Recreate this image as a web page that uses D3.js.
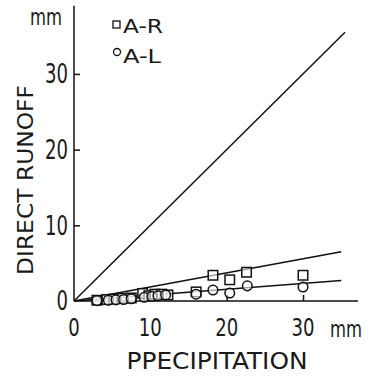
<!DOCTYPE html>
<html>
<head>
<meta charset="utf-8">
<script src="https://cdn.jsdelivr.net/npm/d3@7"></script>
<style>
  html, body { margin: 0; padding: 0; background: #fff; }
  svg { display: block; }
  text { font-family: "DejaVu Sans Condensed", "DejaVu Sans", sans-serif; fill: #1a1a1a; }
</style>
</head>
<body>
<svg id="chart" width="372" height="377"></svg>
<script>
// ---- data ----
const arPrecip = [3.0, 4.3, 5.2, 6.3, 7.5, 9.0, 9.8, 10.6, 11.5, 12.3, 16.0, 18.2, 20.4, 22.6, 30.0];
const arRunoff = [0.1, 0.2, 0.25, 0.35, 0.4, 1.0, 0.7, 0.9, 0.9, 0.8, 1.2, 3.4, 2.8, 3.8, 3.4];
const alPrecip = [3.0, 4.5, 5.5, 6.5, 7.5, 9.2, 10.2, 11.0, 12.0, 16.0, 18.2, 20.4, 22.7, 30.0];
const alRunoff = [0.05, 0.1, 0.15, 0.2, 0.3, 0.5, 0.6, 0.7, 0.8, 0.9, 1.45, 1.05, 2.0, 1.85];
const oneToOneX = [0, 35.5];
const oneToOneY = [0, 35.5];
const arFitX = [0, 35];
const arFitY = [0, 6.5];
const alFitX = [0, 35];
const alFitY = [0, 2.7];
const xTicks = [10, 20, 30];
const yTicks = [10, 20, 30];
const xTickLabels = ["0", "10", "20", "30"];
const yTickLabels = ["0", "10", "20", "30"];
const legendLabels = ["A-R", "A-L"];

// ---- scales ----
const svg = d3.select("#chart");
const x = d3.scaleLinear().domain([0, 37.2]).range([74, 358]);
const y = d3.scaleLinear().domain([0, 39]).range([301, 5.8]);
const ink = "#111";

// axes lines
svg.append("line").attr("x1", x(0)).attr("x2", x(0)).attr("y1", y(0)).attr("y2", y(39))
  .attr("stroke", ink).attr("stroke-width", 1.5);
svg.append("line").attr("x1", x(0)).attr("x2", x(37.2)).attr("y1", y(0)).attr("y2", y(0))
  .attr("stroke", ink).attr("stroke-width", 1.5);

// ticks
const yAx = svg.append("g").attr("transform", `translate(${x(0)},0)`)
  .call(d3.axisLeft(y).tickValues(yTicks).tickSize(-6).tickFormat(""));
const xAx = svg.append("g").attr("transform", `translate(0,${y(0)})`)
  .call(d3.axisBottom(x).tickValues(xTicks).tickSize(-6).tickFormat(""));
[yAx, xAx].forEach(g => {
  g.select(".domain").remove();
  g.selectAll(".tick line").attr("stroke", ink).attr("stroke-width", 1.5);
});

// tick labels
const tickVals = [0, 10, 20, 30];
svg.selectAll(".ylab").data(tickVals).enter().append("text")
  .attr("x", x(0) - 6).attr("y", d => y(d)).attr("dy", "0.36em")
  .attr("text-anchor", "end").attr("font-size", 26)
  .attr("textLength", (d, i) => yTickLabels[i].length * 11.5).attr("lengthAdjust", "spacingAndGlyphs")
  .text((d, i) => yTickLabels[i]);
svg.selectAll(".xlab").data(tickVals).enter().append("text")
  .attr("x", d => x(d)).attr("y", 336)
  .attr("text-anchor", "middle").attr("font-size", 25)
  .attr("textLength", (d, i) => xTickLabels[i].length * 11.5).attr("lengthAdjust", "spacingAndGlyphs")
  .text((d, i) => xTickLabels[i]);

// units
svg.append("text").attr("x", 30).attr("y", 25).attr("font-size", 23)
  .attr("textLength", 32).attr("lengthAdjust", "spacingAndGlyphs").text("mm");
svg.append("text").attr("x", 330).attr("y", 337).attr("font-size", 23)
  .attr("textLength", 32).attr("lengthAdjust", "spacingAndGlyphs").text("mm");

// axis titles
svg.append("text").attr("transform", "translate(33,180) rotate(-90)")
  .attr("text-anchor", "middle").attr("font-size", 22)
  .attr("textLength", 190).attr("lengthAdjust", "spacingAndGlyphs").text("DIRECT RUNOFF");
svg.append("text").attr("x", 217).attr("y", 369)
  .attr("text-anchor", "middle").attr("font-size", 23)
  .attr("textLength", 181).attr("lengthAdjust", "spacingAndGlyphs").text("PPECIPITATION");

// lines
const line = d3.line().x(d => x(d[0])).y(d => y(d[1]));
[[oneToOneX, oneToOneY], [arFitX, arFitY], [alFitX, alFitY]].forEach(([xs, ys]) => {
  svg.append("path").datum(xs.map((v, i) => [v, ys[i]]))
    .attr("d", line).attr("fill", "none").attr("stroke", ink).attr("stroke-width", 1.5);
});

// points
const s = 9.5;
svg.selectAll(".sq").data(arPrecip.map((v, i) => [v, arRunoff[i]])).enter().append("rect")
  .attr("x", d => x(d[0]) - s / 2).attr("y", d => y(d[1]) - s / 2)
  .attr("width", s).attr("height", s)
  .attr("fill", "#fff").attr("fill-opacity", 0.6).attr("stroke", ink).attr("stroke-width", 1.5);
svg.selectAll(".ci").data(alPrecip.map((v, i) => [v, alRunoff[i]])).enter().append("circle")
  .attr("cx", d => x(d[0])).attr("cy", d => y(d[1])).attr("r", 4.8)
  .attr("fill", "#fff").attr("fill-opacity", 0.6).attr("stroke", ink).attr("stroke-width", 1.5);

// legend
svg.append("rect").attr("x", 113).attr("y", 21).attr("width", 7).attr("height", 7)
  .attr("fill", "none").attr("stroke", ink).attr("stroke-width", 1.3);
svg.append("circle").attr("cx", 117).attr("cy", 52).attr("r", 3.5)
  .attr("fill", "none").attr("stroke", ink).attr("stroke-width", 1.3);
svg.append("text").attr("x", 123).attr("y", 33).attr("font-size", 20)
  .attr("textLength", 40).attr("lengthAdjust", "spacingAndGlyphs").text(legendLabels[0]);
svg.append("text").attr("x", 123).attr("y", 63).attr("font-size", 20)
  .attr("textLength", 38).attr("lengthAdjust", "spacingAndGlyphs").text(legendLabels[1]);
</script>
</body>
</html>
